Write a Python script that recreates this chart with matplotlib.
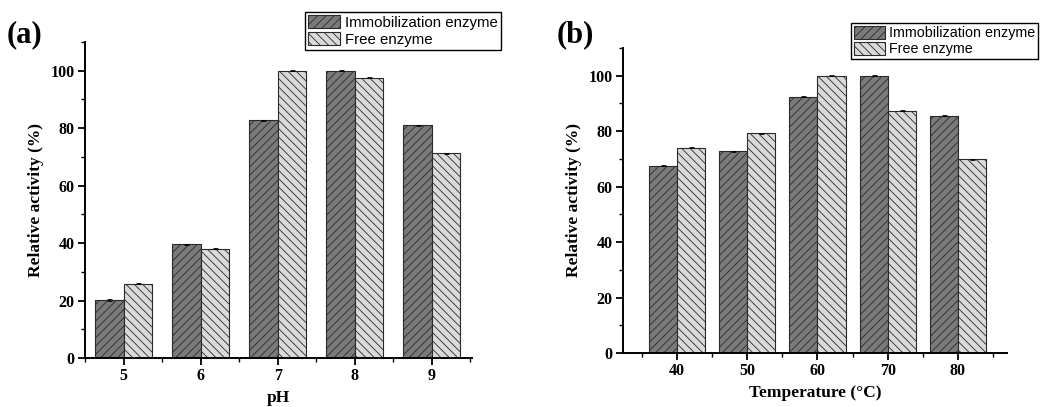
import numpy as np
import matplotlib
matplotlib.use("Agg")
import matplotlib.pyplot as plt
from matplotlib.ticker import MultipleLocator

# data
ph = [5, 6, 7, 8, 9]
ph_immob = [20.2, 39.6, 82.8, 100.0, 81.0]
ph_free = [25.8, 38.1, 100.0, 97.6, 71.3]

temp = [40, 50, 60, 70, 80]
temp_immob = [67.5, 72.7, 92.5, 100.0, 85.6]
temp_free = [74.0, 79.3, 100.0, 87.4, 69.9]

err = [0.2, 0.2, 0.2, 0.2, 0.2]

labels = ["Immobilization enzyme", "Free enzyme"]

plt.rcParams["hatch.linewidth"] = 0.6
plt.rcParams["hatch.color"] = "#2a2a2a"

serif = "Liberation Serif"

fig = plt.figure(figsize=(10.41, 4.07), dpi=100)
ax1 = fig.add_axes([0.0817, 0.1204, 0.3717, 0.7764])
ax2 = fig.add_axes([0.5985, 0.1327, 0.3688, 0.7494])


def draw(ax, x, a, b, w, xlim, xlabel, minor):
    x = np.array(x, dtype=float)
    b1 = ax.bar(x - w / 2, a, w, color="#7a7a7a", edgecolor="#2a2a2a",
                hatch="////", linewidth=0.8, label=labels[0])
    b2 = ax.bar(x + w / 2, b, w, color="#dadada", edgecolor="#2a2a2a",
                hatch="\\\\\\\\", linewidth=0.8, label=labels[1])
    ax.errorbar(x - w / 2, a, yerr=err, fmt="none", ecolor="black",
                elinewidth=0.6, capsize=1.8, capthick=0.6)
    ax.errorbar(x + w / 2, b, yerr=err, fmt="none", ecolor="black",
                elinewidth=0.6, capsize=1.8, capthick=0.6)
    ax.set_xlim(*xlim)
    ax.set_ylim(0, 110)
    ax.set_xticks(x)
    ax.xaxis.set_minor_locator(MultipleLocator(minor))
    ax.yaxis.set_major_locator(MultipleLocator(20))
    ax.yaxis.set_minor_locator(MultipleLocator(10))
    ax.spines["top"].set_visible(False)
    ax.spines["right"].set_visible(False)
    ax.spines["left"].set_linewidth(1.4)
    ax.spines["bottom"].set_linewidth(1.4)
    ax.tick_params(which="major", direction="out", length=5, width=1.3,
                   pad=2.5)
    ax.tick_params(which="minor", direction="out", length=3, width=1.0)
    for t in ax.get_xticklabels() + ax.get_yticklabels():
        t.set_fontfamily(serif)
        t.set_fontweight("bold")
        t.set_fontsize(11.5)
    ax.set_xlabel(xlabel, fontfamily=serif, fontweight="bold", fontsize=12.5,
                  labelpad=4)
    ax.set_ylabel("Relative activity (%)", fontfamily=serif,
                  fontweight="bold", fontsize=12.5, labelpad=5)
    return b1, b2


h1 = draw(ax1, ph, ph_immob, ph_free, 0.37, (4.5, 9.52), "pH", 0.5)
h2 = draw(ax2, temp, temp_immob, temp_free, 4.0, (32.3, 87.0),
          "Temperature (\u00b0C)", 5)

leg_kw = dict(loc="upper left", frameon=True, fancybox=False,
              edgecolor="black", framealpha=1,
              handlelength=2.15, handleheight=1.0, handletextpad=0.3,
              borderpad=0.2, labelspacing=0.12, borderaxespad=0)
lg1 = fig.legend(h1, labels, bbox_to_anchor=(0.293, 0.9705),
                 prop={"family": "Liberation Sans", "size": 10.8}, **leg_kw)
lg2 = fig.legend(h2, labels, bbox_to_anchor=(0.8175, 0.9435),
                 prop={"family": "Liberation Sans", "size": 10.3}, **leg_kw)
for lg in (lg1, lg2):
    lg.get_frame().set_linewidth(1.0)

fig.text(0.006, 0.915, "(a)", fontfamily=serif, fontweight="bold",
         fontsize=22, va="center", ha="left")
fig.text(0.535, 0.915, "(b)", fontfamily=serif, fontweight="bold",
         fontsize=22, va="center", ha="left")

fig.savefig("out.png", dpi=100)
